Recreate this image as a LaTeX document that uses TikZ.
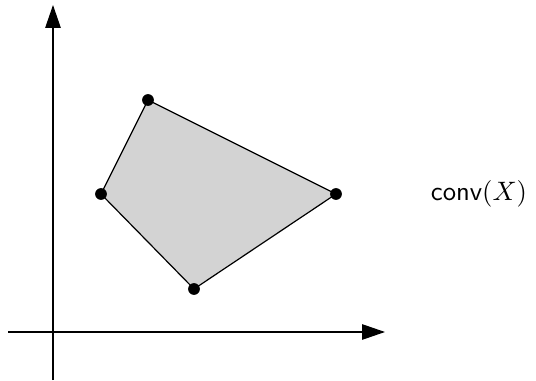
\documentclass[tikz,border=0pt]{standalone}
\usepackage{tikz}
\usetikzlibrary{arrows.meta}
\definecolor{hullgray}{HTML}{D3D3D3}

\begin{document}
\begin{tikzpicture}[x=0.375pt,y=-0.375pt,
    axis/.style={-{Triangle[length=8.6pt,width=5.8pt]},line width=0.45pt},
    pt/.style={circle,fill=black,inner sep=0pt,minimum size=4.4pt}]
  \useasboundingbox (0,0) rectangle (536,381);
  % axes
  \coordinate (xs) at (8,332);
  \coordinate (xe) at (385,332);
  \coordinate (ys) at (53,380);
  \coordinate (ye) at (53,5);
  \draw[axis] (xs) -- (xe);
  \draw[axis] (ys) -- (ye);
  % points of X
  \coordinate (p1) at (148,100);
  \coordinate (p2) at (336,194);
  \coordinate (p3) at (194,289);
  \coordinate (p4) at (101,194);
  \filldraw[fill=hullgray,line width=0.45pt] (p1) -- (p2) -- (p3) -- (p4) -- cycle;
  \foreach \p in {p1,p2,p3,p4}
    \node[pt] at (\p) {};
  \node (hull) at (479,194) {\textsf{conv}$(X)$};
\end{tikzpicture}
\end{document}
